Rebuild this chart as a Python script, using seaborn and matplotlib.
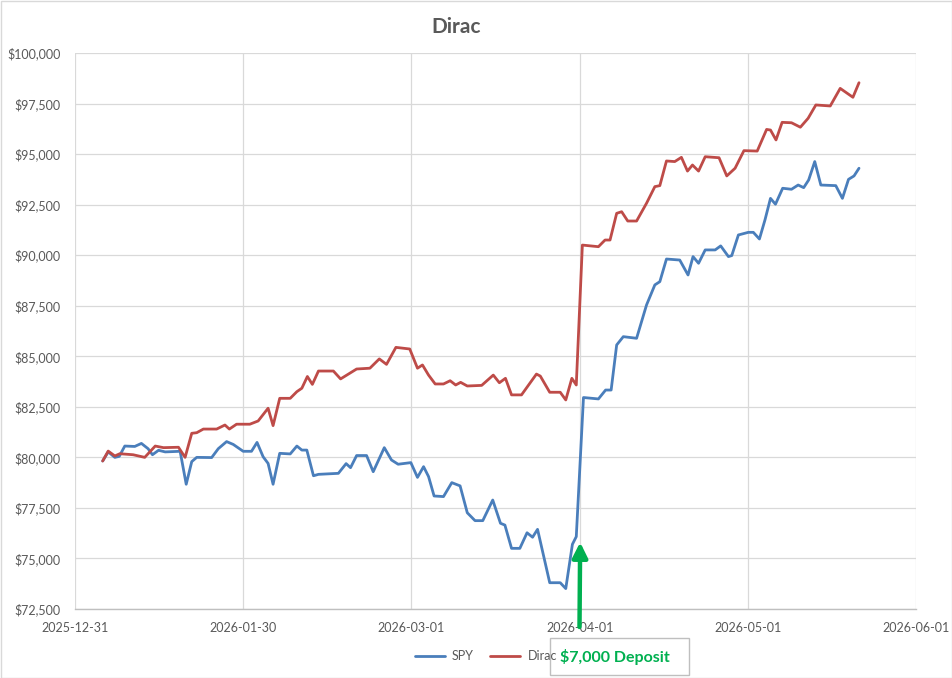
import numpy as np
import pandas as pd
import matplotlib
matplotlib.use("Agg")
import matplotlib.pyplot as plt
import seaborn as sns
from matplotlib.patches import Rectangle
from matplotlib.lines import Line2D

# ---- data (x = days since 2025-12-31) ----
spy_day = [5.0, 6.0, 7.2, 8.0, 9.0, 10.8, 12.0, 13.2, 14.0, 15.1, 16.3, 19.0, 20.1, 21.1, 22.0,
           24.7, 25.9, 27.4, 28.6, 30.4, 31.9, 32.9, 34.0, 34.9, 35.8, 37.0, 38.9, 40.1, 41.0,
           41.9, 43.1, 44.0, 47.6, 49.0, 49.8, 50.9, 52.7, 53.9, 55.9, 57.2, 58.4, 60.7, 61.9,
           63.0, 63.9, 64.9, 66.6, 68.1, 69.6, 70.9, 72.3, 73.7, 75.5, 76.9, 77.7, 78.9, 80.4,
           81.7, 82.7, 83.6, 85.8, 87.7, 88.7, 89.9, 90.6, 91.9, 94.6, 95.9, 96.9, 97.9, 99.1,
           101.5, 103.3, 104.8, 105.7, 106.9, 109.3, 110.8, 111.7, 112.7, 113.9, 115.7, 116.7,
           118.1, 118.7, 119.9, 121.7, 122.6, 123.7, 124.7, 125.7, 126.6, 127.9, 129.5, 130.7,
           131.7, 132.6, 133.7, 134.8, 137.5, 138.7, 139.8, 140.8, 141.7]
spy_val = [79820, 80270, 80000, 80050, 80560, 80540, 80690, 80430, 80130, 80350, 80270, 80300, 78670, 79790, 80000,
           79990, 80430, 80780, 80640, 80300, 80300, 80740, 80030, 79700, 78670, 80200, 80170, 80560, 80360,
           80360, 79090, 79160, 79210, 79690, 79490, 80090, 80090, 79290, 80480, 79870, 79660, 79740, 79010,
           79540, 79050, 78090, 78060, 78750, 78590, 77260, 76870, 76870, 77890, 76740, 76650, 75500, 75500,
           76270, 76050, 76440, 73800, 73800, 73510, 75700, 76080, 82960, 82890, 83330, 83330, 85560, 85970,
           85890, 87540, 88530, 88690, 89810, 89760, 89020, 89930, 89600, 90260, 90260, 90460,
           89930, 89980, 91000, 91130, 91130, 90800, 91740, 92810, 92520, 93310, 93260, 93470,
           93340, 93720, 94630, 93470, 93440, 92810, 93750, 93920, 94300]

dirac_day = [5.0, 6.0, 7.2, 8.1, 10.5, 12.6, 14.5, 16.0, 18.7, 19.9, 21.1, 22.0, 23.2, 25.6, 27.1,
             27.9, 29.2, 31.6, 33.1, 34.9, 35.8, 37.0, 38.9, 40.1, 41.0, 42.0, 42.9, 44.0, 46.7,
             48.0, 50.9, 53.3, 55.0, 56.3, 58.0, 60.5, 61.9, 62.8, 63.9, 65.1, 66.6, 67.8, 68.8,
             69.7, 70.9, 73.5, 75.6, 76.7, 77.8, 78.9, 80.7, 83.4, 84.1, 85.8, 87.7, 88.7, 89.8,
             90.6, 91.7, 94.6, 95.8, 96.7, 97.9, 98.8, 99.9, 101.5, 103.3, 104.8, 105.7, 106.9,
             108.4, 109.6, 110.7, 111.6, 112.7, 113.9, 116.4, 117.8, 119.3, 120.9, 123.3, 125.0,
             125.7, 126.7, 127.8, 129.5, 131.1, 132.5, 133.9, 136.5, 138.3, 140.6, 141.7]
dirac_val = [79820, 80310, 80070, 80180, 80130, 80000, 80560, 80480, 80500, 80000, 81190, 81220, 81400, 81400, 81600,
             81400, 81640, 81640, 81800, 82430, 81570, 82920, 82920, 83250, 83420, 84000, 83610, 84270, 84270,
             83880, 84370, 84410, 84870, 84600, 85440, 85360, 84410, 84570, 84070, 83630, 83630, 83790, 83580,
             83710, 83530, 83560, 84070, 83690, 83910, 83090, 83090, 84120, 84020, 83220, 83220, 82840, 83910,
             83580, 90500, 90420, 90750, 90750, 92070, 92150, 91690, 91690, 92570, 93390, 93440, 94660,
             94630, 94840, 94160, 94460, 94160, 94870, 94820, 93920, 94300, 95170, 95150, 96220,
             96190, 95700, 96570, 96550, 96330, 96770, 97430, 97380, 98250, 97810, 98530]

tick_pos = [0, 30.4, 60.8, 91.2, 121.6, 152]
tick_labels = ["2025-12-31", "2026-01-30", "2026-03-01", "2026-04-01", "2026-05-01", "2026-06-01"]
y_ticks = [72500, 75000, 77500, 80000, 82500, 85000, 87500, 90000, 92500, 95000, 97500, 100000]
series_names = ["SPY", "Dirac"]
colors = {"SPY": "#4a7ebb", "Dirac": "#be4b48"}
deposit_day = 91.3
deposit_val = 75800

df = pd.concat([
    pd.DataFrame({"day": spy_day, "value": spy_val, "series": "SPY"}),
    pd.DataFrame({"day": dirac_day, "value": dirac_val, "series": "Dirac"}),
])

sns.set_style("white")
plt.rcParams["font.family"] = ["Lato", "DejaVu Sans"]

W, H = 953, 678
fig = plt.figure(figsize=(W / 100, H / 100), dpi=100)
ax = fig.add_axes([75 / W, 1 - 609 / H, (916 - 75) / W, (609 - 53) / H])

sns.lineplot(data=df, x="day", y="value", hue="series", hue_order=series_names,
             palette=colors, estimator=None, sort=False, linewidth=2.0, ax=ax, legend=False)

ax.set_xlim(0, 152)
ax.set_ylim(72500, 100000)
ax.set_xticks(tick_pos)
ax.set_xticklabels(tick_labels)
ax.set_yticks(y_ticks)
ax.set_yticklabels([f"${v:,.0f}" for v in y_ticks])
ax.tick_params(axis="both", length=0, labelsize=9, colors="#595959")
ax.tick_params(axis="x", pad=9)
ax.tick_params(axis="y", pad=10.5)
ax.set_xlabel("")
ax.set_ylabel("")
ax.grid(True, color="#d9d9d9", linewidth=0.9)
ax.set_axisbelow(True)
for s in ["top", "right", "left"]:
    ax.spines[s].set_visible(False)
ax.spines["bottom"].set_color("#bfbfbf")
ax.spines["bottom"].set_linewidth(1.0)

fig.text(456 / W, 1 - 27 / H, "Dirac", ha="center", va="center",
         fontsize=15, fontweight="bold", color="#595959")

handles = [Line2D([0], [0], color=colors[n], lw=2.0) for n in series_names]
fig.legend(handles, series_names, loc="center", bbox_to_anchor=(486 / W, 1 - 656 / H),
           ncol=2, frameon=False, fontsize=9, labelcolor="#595959",
           handlelength=2.4, columnspacing=1.3, handletextpad=0.6)

# arrow
ax.annotate("", xy=(deposit_day, deposit_val), xycoords="data",
            xytext=(579.5, H - 627), textcoords="figure pixels",
            arrowprops=dict(arrowstyle="-|>,head_width=0.45,head_length=0.9",
                            color="#00b050", lw=3.2, shrinkA=0, shrinkB=0),
            annotation_clip=False)

# deposit box
fig.patches.append(Rectangle((550 / W, 1 - 675 / H), (689 - 550) / W, (675 - 638) / H,
                             transform=fig.transFigure, facecolor="white",
                             edgecolor="#bfbfbf", linewidth=1.0, zorder=5))
fig.text(615 / W, 1 - 657 / H, "$7,000 Deposit", ha="center", va="center",
         fontsize=11.5, fontweight="bold", color="#00b050", zorder=6)

# chart border
fig.patches.append(Rectangle((0.5 / W, 0.5 / H), 1 - 1.5 / W, 1 - 1.5 / H,
                             transform=fig.transFigure, fill=False,
                             edgecolor="#d9d9d9", linewidth=1.0))

fig.savefig("out.png", dpi=100)
